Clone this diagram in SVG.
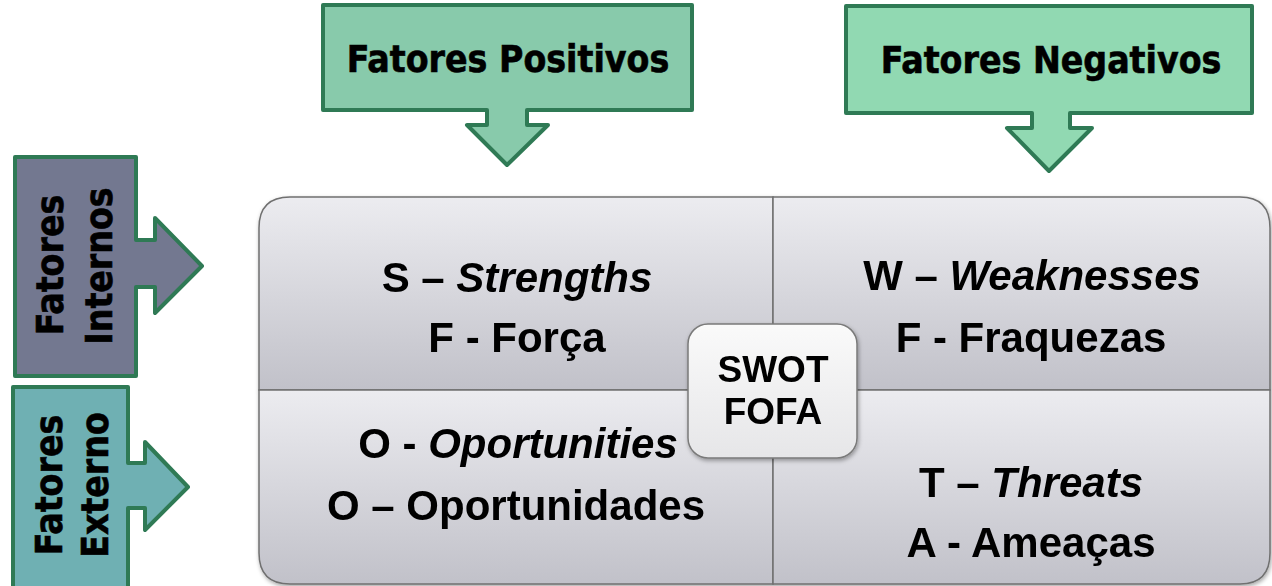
<svg xmlns="http://www.w3.org/2000/svg" width="1272" height="586" viewBox="0 0 1272 586">
<defs>
<linearGradient id="quad" x1="0" y1="0" x2="0" y2="1">
<stop offset="0" stop-color="#ececf0"/>
<stop offset="1" stop-color="#c1c1c9"/>
</linearGradient>
<linearGradient id="center" x1="0" y1="0" x2="0" y2="1">
<stop offset="0" stop-color="#fafafa"/>
<stop offset="1" stop-color="#e6e6e8"/>
</linearGradient>
<filter id="shadow" x="-10%" y="-10%" width="120%" height="120%">
<feDropShadow dx="1" dy="2" stdDeviation="2" flood-color="#000" flood-opacity="0.35"/>
</filter>
</defs>
<style>
.callout{stroke:#2f7a55;stroke-width:4;stroke-linejoin:round}
.lbl{font-family:"DejaVu Sans Condensed","DejaVu Sans",sans-serif;font-weight:bold;font-size:37px;fill:#000;stroke:#000;stroke-width:0.6}
.quadtxt{font-family:"Liberation Sans",Arial,sans-serif;font-weight:bold;font-size:42px;fill:#000;text-anchor:middle}
.quad{fill:url(#quad);stroke:#707070;stroke-width:1.5}
</style>
<rect width="1272" height="586" fill="#ffffff"/>

<g id="fatores-positivos">
<path class="callout" fill="#88caab" d="M323,5 H692 V110 H527 V125 H548 L507,165 L467,125 H487 V110 H323 Z"/>
<text class="lbl" x="508" y="72" text-anchor="middle">Fatores Positivos</text>
</g>

<g id="fatores-negativos">
<path class="callout" fill="#91d9b2" d="M846,6 H1252 V113 H1070 V128 H1092 L1049,171 L1007,128 H1032 V113 H846 Z"/>
<text class="lbl" x="1051" y="73" text-anchor="middle">Fatores Negativos</text>
</g>

<g id="fatores-internos">
<path class="callout" fill="#737890" d="M15,157 H136 V240 H155 V218 L202,266 L155,313 V287 H136 V376 H15 Z"/>
<text class="lbl" text-anchor="middle" transform="translate(63,265) rotate(-90)">Fatores</text>
<text class="lbl" text-anchor="middle" transform="translate(112,266) rotate(-90)">Internos</text>
</g>

<g id="fatores-externo">
<path class="callout" fill="#6fb0b3" d="M13,387 H128 V463 H145 V442 L188,487 L145,530 V508 H128 V592 H13 Z"/>
<text class="lbl" text-anchor="middle" transform="translate(62,485) rotate(-90)">Fatores</text>
<text class="lbl" text-anchor="middle" transform="translate(108,485) rotate(-90)">Externo</text>
</g>

<g id="swot-grid" filter="url(#shadow)">
<g id="q-strengths">
<path class="quad" d="M773,197 V390 H259 V228 Q259,197 290,197 Z"/>
<text class="quadtxt" x="517" y="292">S – <tspan font-style="italic">Strengths</tspan></text>
<text class="quadtxt" x="517" y="352">F - Força</text>
</g>
<g id="q-weaknesses">
<path class="quad" d="M773,197 H1240 Q1270,197 1270,228 V390 H773 Z"/>
<text class="quadtxt" x="1032" y="290">W – <tspan font-style="italic">Weaknesses</tspan></text>
<text class="quadtxt" x="1031" y="352">F - Fraquezas</text>
</g>
<g id="q-oportunities">
<path class="quad" d="M259,390 H773 V584 H290 Q259,584 259,553 Z"/>
<text class="quadtxt" x="518" y="458">O - <tspan font-style="italic">Oportunities</tspan></text>
<text class="quadtxt" x="516" y="520">O – Oportunidades</text>
</g>
<g id="q-threats">
<path class="quad" d="M773,390 H1270 V553 Q1270,584 1240,584 H773 Z"/>
<text class="quadtxt" x="1031" y="497">T – <tspan font-style="italic">Threats</tspan></text>
<text class="quadtxt" x="1031" y="557">A - Ameaças</text>
</g>
</g>

<g id="swot-center" filter="url(#shadow)">
<rect x="688" y="324" width="169" height="134" rx="20" ry="20" fill="url(#center)" stroke="#7a7a7a" stroke-width="1.5"/>
<text x="773" y="382" font-family="Liberation Sans, Arial, sans-serif" font-weight="bold" font-size="37" text-anchor="middle">SWOT</text>
<text x="773" y="424" font-family="Liberation Sans, Arial, sans-serif" font-weight="bold" font-size="37" text-anchor="middle">FOFA</text>
</g>

<g id="connectors"></g>
</svg>
